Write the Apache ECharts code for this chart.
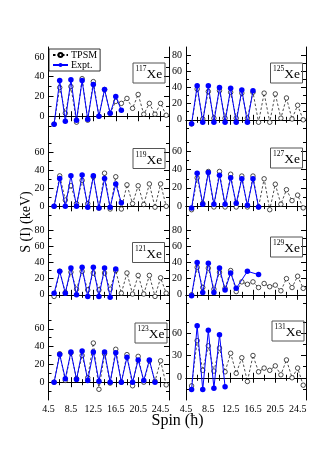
<!DOCTYPE html>
<html><head><meta charset="utf-8">
<script src="https://cdn.jsdelivr.net/npm/echarts@6/dist/echarts.min.js"></script>
<style>html,body{margin:0;padding:0;background:#fff}#c{width:317px;height:449px}</style>
</head><body><div id="c"></div>
<script>
// ---------- data ----------
const spins = [5.5,6.5,7.5,8.5,9.5,10.5,11.5,12.5,13.5,14.5,15.5,16.5,17.5,18.5,19.5,20.5,21.5,22.5,23.5,24.5,25.5];
const xTickLabels = [4.5,8.5,12.5,16.5,20.5,24.5];
const xMinorTicks = [6.5,10.5,14.5,18.5,22.5];
const nuclei = ['117','125','119','127','121','129','123','131'];

const tpsm117 = [-8,29,3,30,-6,38,-4,35,0,27,3,15,13,18,8,22,2,13,2,13,1];
const expt117 = [-8,36,-5,37,-4,36,-3,32,0,27,3,20,6];
const tpsm125 = [-5,38,1,35,2,36,2,34,2,33,2,34,-3,33,-3,32,2,27,1,18,0];
const expt125 = [-5,42,-3,42,-3,40,-3,39,-3,37,-3,36];
const tpsm119 = [0,34,7,23,3,29,3,33,-2,37,-3,33,-3,24,3,23,2,25,-1,25,0];
const expt119 = [0,31,0,34,0,35,-1,34,-2,31,-1,25,4];
const tpsm127 = [-4,31,3,38,-1,38,-1,35,-1,33,-1,33,-1,30,-4,24,2,18,6,12,-2];
const expt127 = [-2,36,2,37,2,34,2,31,3,30,1,30,-1];
const tpsm121 = [-2,29,3,28,7,29,6,27,6,27,7,30,2,27,1,24,1,24,-2,21,2];
const expt121 = [2,29,2,33,0,34,-2,34,-2,33,-3,32];
const tpsm129 = [0,34,9,33,7,28,8,30,4,16,13,16,9,14,10,12,5,20,9,23,8];
const expt129 = [-1,40,3,39,3,33,6,27,8,null,29,null,25];
const tpsm123 = [0,32,2,33,4,30,5,44,-8,32,-1,37,0,31,-4,29,0,24,1,24,-3];
const expt123 = [0,31,4,34,3,35,2,34,1,34,0,33,0,28,0,25,2,25,0];
const tpsm131 = [-11,50,10,43,9,40,8,33,6,27,-5,30,8,13,10,16,4,24,0,13,-10];
const expt131 = [-16,70,-16,64,-14,58,-12];

const tpsmAll = [tpsm117,tpsm125,tpsm119,tpsm127,tpsm121,tpsm129,tpsm123,tpsm131];
const exptAll = [expt117,expt125,expt119,expt127,expt121,expt129,expt123,expt131];

const yRange = [[-20,70],[-20,90],[-17.5,78.5],[-17.5,77],[-20,90],[-20,90],[-20,80],[-30,90]];
const yTickLabels = [[0,20,40,60],[0,20,40,60,80],[0,20,40,60],[0,20,40,60],[0,20,40,60,80],[0,20,40,60,80],[0,20,40,60],[0,30,60]];
const yMinorTicks = [[-10,10,30,50],[-10,10,30,50,70],[-10,10,30,50,70],[-10,10,30,50,70],[-10,10,30,50,70],[-10,10,30,50,70],[-10,10,30,50,70],[-15,15,45,75]];

// ---------- layout ----------
const colLeft = [48.5, 186], colWidth = [120.5, 120];
const rowTop = [47, 136, 222, 311], rowHeight = [89, 86, 89, 89];
const boxPos = [[132.5,62.5],[270,62.5],[132.5,148],[270,147.5],[132,242],[270,236.5],[134.5,322.5],[271.5,320.5]];

const FONT = "'Liberation Serif','DejaVu Serif',serif";

const grids = [], xAxes = [], yAxes = [], series = [], titles = [];

nuclei.forEach((nuc, p) => {
  const row = Math.floor(p / 2), col = p % 2;
  grids.push({left: colLeft[col], top: rowTop[row], width: colWidth[col], height: rowHeight[row], containLabel: false});
  const isBottom = row === 3;
  const line = {show: true, lineStyle: {color: '#000', width: 1}};
  const xBase = {type: 'value', gridIndex: p, min: 4.5, max: 26, splitLine: {show: false}};
  const xMain = xAxes.length;
  xAxes.push(Object.assign({}, xBase, {position: 'bottom', axisLine: line,
    axisTick: {show: true, inside: true, length: 5, customValues: xTickLabels, lineStyle: {color: '#000'}},
    axisLabel: {show: isBottom, customValues: xTickLabels, color: '#000', fontFamily: FONT, fontSize: 10, margin: 4,
      formatter: v => v.toFixed(1)}}));
  xAxes.push(Object.assign({}, xBase, {position: 'bottom', axisLine: {show: false},
    axisTick: {show: true, inside: true, length: 3, customValues: xMinorTicks, lineStyle: {color: '#000'}}, axisLabel: {show: false}}));
  xAxes.push(Object.assign({}, xBase, {position: 'top', axisLine: line,
    axisTick: {show: true, inside: true, length: 5, customValues: xTickLabels, lineStyle: {color: '#000'}}, axisLabel: {show: false}}));
  xAxes.push(Object.assign({}, xBase, {position: 'top', axisLine: {show: false},
    axisTick: {show: true, inside: true, length: 3, customValues: xMinorTicks, lineStyle: {color: '#000'}}, axisLabel: {show: false}}));

  const yBase = {type: 'value', gridIndex: p, min: yRange[p][0], max: yRange[p][1], splitLine: {show: false}};
  const yMain = yAxes.length;
  yAxes.push(Object.assign({}, yBase, {position: 'left', axisLine: line,
    axisTick: {show: true, inside: true, length: 5, customValues: yTickLabels[p], lineStyle: {color: '#000'}},
    axisLabel: {show: true, customValues: yTickLabels[p], color: '#000', fontFamily: FONT, fontSize: 10, margin: 4}}));
  yAxes.push(Object.assign({}, yBase, {position: 'left', axisLine: {show: false},
    axisTick: {show: true, inside: true, length: 3, customValues: yMinorTicks[p], lineStyle: {color: '#000'}}, axisLabel: {show: false}}));
  yAxes.push(Object.assign({}, yBase, {position: 'right', axisLine: line,
    axisTick: {show: true, inside: true, length: 5, customValues: yTickLabels[p], lineStyle: {color: '#000'}}, axisLabel: {show: false}}));
  yAxes.push(Object.assign({}, yBase, {position: 'right', axisLine: {show: false},
    axisTick: {show: true, inside: true, length: 3, customValues: yMinorTicks[p], lineStyle: {color: '#000'}}, axisLabel: {show: false}}));

  series.push({
    name: 'TPSM', type: 'line', xAxisIndex: xMain, yAxisIndex: yMain, z: 2,
    data: tpsmAll[p].map((v, i) => [spins[i], v]),
    symbol: 'circle', symbolSize: 4.5,
    itemStyle: {color: '#fff', borderColor: '#000', borderWidth: 0.7},
    lineStyle: {color: '#000', width: 0.7, type: [2.5, 2]},
    animation: false
  });
  series.push({
    name: 'Expt.', type: 'line', xAxisIndex: xMain, yAxisIndex: yMain, z: 3,
    data: exptAll[p].map((v, i) => [spins[i], v]),
    connectNulls: true,
    symbol: 'circle', symbolSize: 5.5,
    itemStyle: {color: '#0000ff'},
    lineStyle: {color: '#0000ff', width: 1},
    animation: false
  });

  titles.push({
    text: '{s|' + nuc + '}{x|Xe}',
    left: boxPos[p][0], top: boxPos[p][1],
    padding: [1, 3, 2, 3],
    borderColor: '#555', borderWidth: 1,
    textStyle: {
      fontFamily: FONT, fontWeight: 'normal',
      rich: {
        s: {fontSize: 7.5, fontFamily: FONT, fontWeight: 'normal', color: '#000', verticalAlign: 'top', lineHeight: 18, padding: [2, 0, 0, 0]},
        x: {fontSize: 13.5, fontFamily: FONT, fontWeight: 'normal', color: '#000', lineHeight: 18, verticalAlign: 'bottom', padding: [4, 0, 0, 0]}
      }
    }
  });
});

const chart = echarts.init(document.getElementById('c'), null, {renderer: 'canvas'});
chart.setOption({
  animation: false,
  backgroundColor: '#fff',
  title: titles,
  legend: {
    data: ['TPSM', 'Expt.'],
    orient: 'vertical', left: 49, top: 49,
    itemWidth: 15, itemHeight: 5, itemGap: 0,
    padding: [1, 3, 1, 3],
    borderColor: '#000', borderWidth: 0.8,
    textStyle: {fontFamily: FONT, fontSize: 10, color: '#000', lineHeight: 10, padding: [0, 0, 0, -2]},
    backgroundColor: '#fff'
  },
  grid: grids,
  xAxis: xAxes,
  yAxis: yAxes,
  series: series,
  graphic: [
    {type: 'text', x: 26, y: 222, rotation: Math.PI / 2,
      style: {text: 'S (I) (keV)', fontFamily: FONT, fontSize: 14, fill: '#000', align: 'center', verticalAlign: 'middle'}},
    {type: 'text', x: 177.5, y: 421,
      style: {text: 'Spin (ħ)', fontFamily: FONT, fontSize: 16, fill: '#000', align: 'center', verticalAlign: 'middle'}}
  ]
});
</script>
</body></html>
